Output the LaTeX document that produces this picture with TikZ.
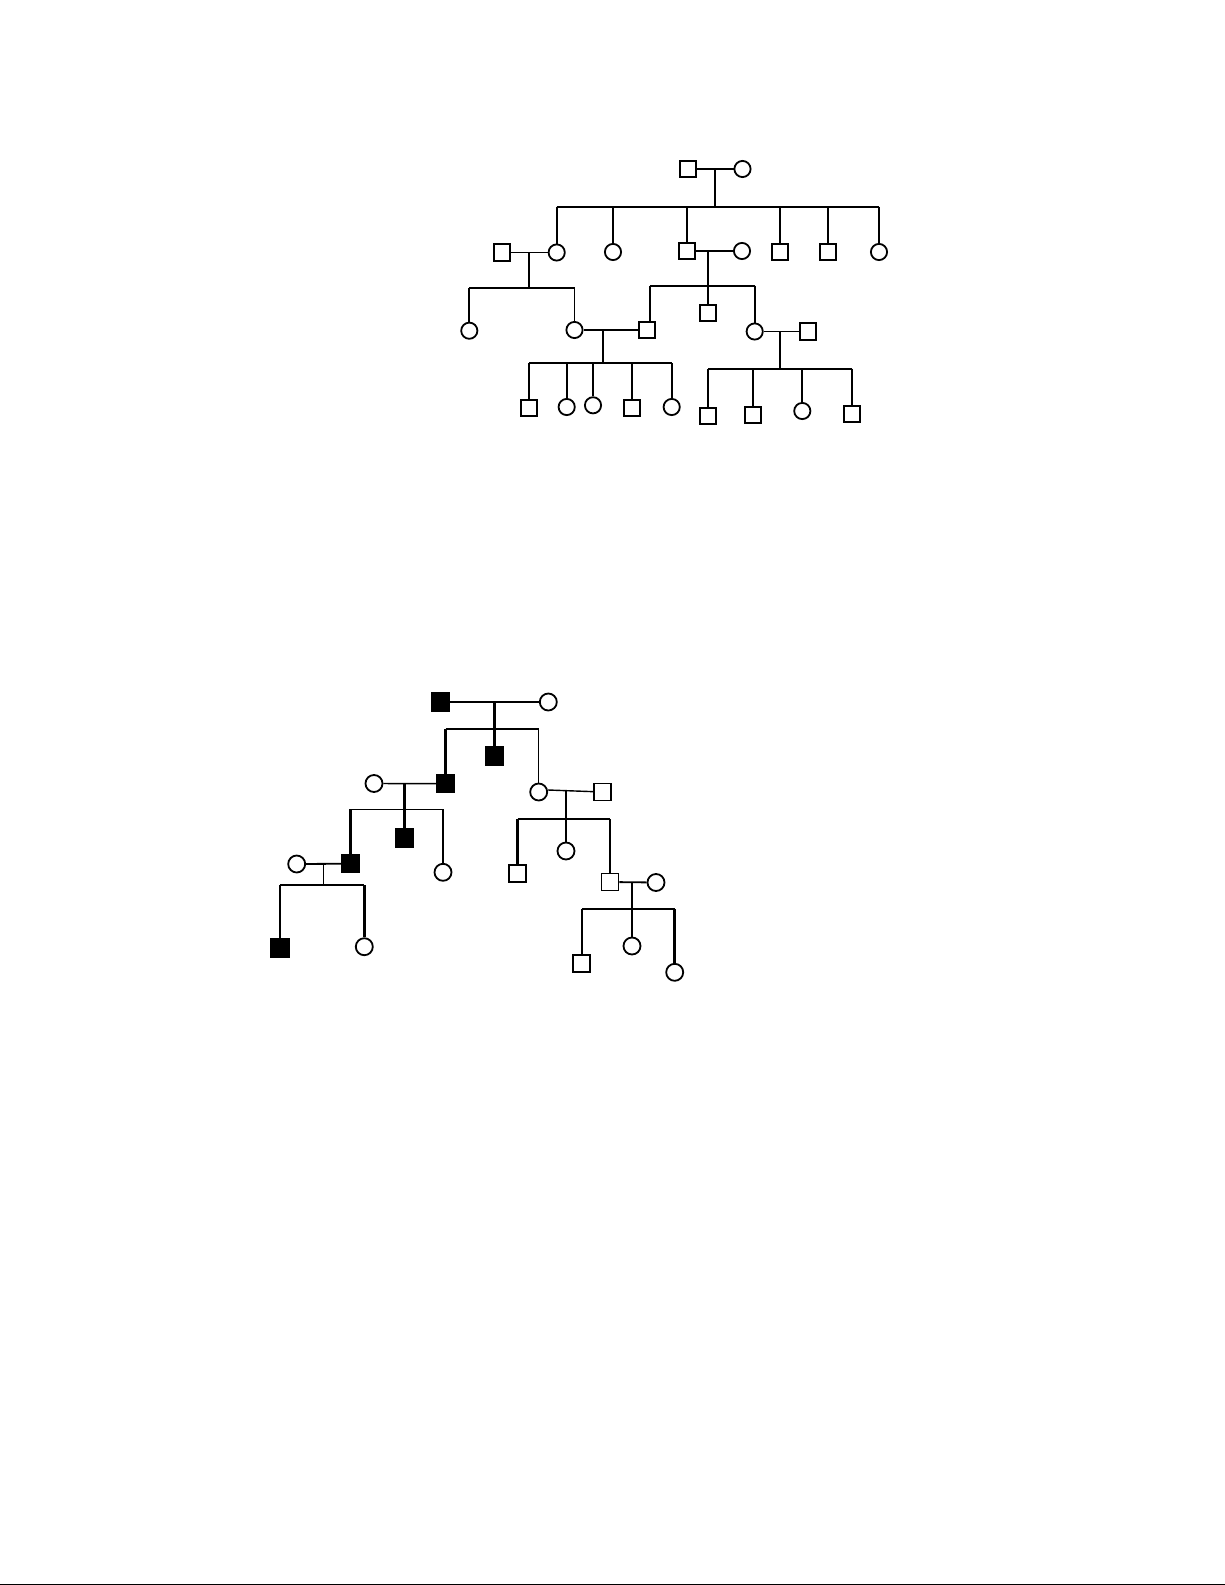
\documentclass[tikz,border=0pt]{standalone}
\usetikzlibrary{positioning}
\tikzset{
    x=1pt, y=-1pt,
    male/.style={
        draw, rectangle,
        minimum size=16.2pt,
        inner sep=0pt,
        line width=1.9pt
    },
    female/.style={
        draw, circle,
        minimum size=16.2pt,
        inner sep=0pt,
        line width=1.8pt
    },
    affected/.style={
        fill=black
    },
    link/.style={
        line width=1.8pt
    },
    heavy/.style={
        line width=2.6pt
    },
    light/.style={
        line width=1.4pt
    }
}

\begin{document}
\begin{tikzpicture}
                \useasboundingbox (0,0) rectangle (1225,1585);

                % upper pedigree
                \node[male] (a1) at (688,169) {};
                \node[female] (a2) at (742.5,169) {};

                \node[male] (b1) at (501.7,252.5) {};
                \node[female] (b2) at (556.7,252.5) {};
                \node[female] (b3) at (613,252) {};
                \node[male] (b4) at (687.3,251) {};
                \node[female] (b5) at (742,251) {};
                \node[male] (b6) at (779.8,252) {};
                \node[male] (b7) at (828.3,252) {};
                \node[female] (b8) at (879,252) {};

                \node[female] (c1) at (469.3,330.7) {};
                \node[female] (c2) at (574.5,330) {};
                \node[male] (c3) at (646.8,330) {};
                \node[male] (c4) at (708,313) {};
                \node[female] (c5) at (754.7,331.5) {};
                \node[male] (c6) at (807.7,331.5) {};

                \node[male] (d1) at (529.2,407.7) {};
                \node[female] (d2) at (566.7,407) {};
                \node[female] (d3) at (593,405.3) {};
                \node[male] (d4) at (631.7,407.7) {};
                \node[female] (d5) at (671.7,407) {};
                \node[male] (d6) at (708,415.7) {};
                \node[male] (d7) at (753.3,415) {};
                \node[female] (d8) at (802.3,411) {};
                \node[male] (d9) at (851.8,413.8) {};

                \coordinate (a12) at (715,169);
                \coordinate (sa) at (715,206.7);
                \coordinate (b12) at (528.7,252.5);
                \coordinate (sb) at (528.7,288.3);
                \coordinate (b45) at (708.3,251);
                \coordinate (sbb) at (708.3,285.7);
                \coordinate (c23) at (603.3,330);
                \coordinate (sc) at (603.3,363);
                \coordinate (c56) at (780.3,331.5);
                \coordinate (scc) at (780.3,368.7);

                \draw[link] (a1) -- (a2);
                \draw[link] (a12) -- (sa);
                \draw[link] (b2 |- sa) -- (b8 |- sa);
                \foreach \kid in {b2,b3,b4,b6,b7,b8}
                    \draw[link] (\kid |- sa) -- (\kid);

                \draw[link] (b1) -- (b2);
                \draw[link] (b12) -- (sb);
                \draw[link] (c1 |- sb) -- (c2 |- sb);
                \foreach \kid in {c1,c2}
                    \draw[link] (\kid |- sb) -- (\kid);

                \draw[link] (b4) -- (b5);
                \draw[link] (b45) -- (sbb);
                \draw[link] ([xshift=3pt]c3.center |- sbb) -- (c5 |- sbb);
                \draw[link] ([xshift=3pt]c3.center |- sbb) -- ([xshift=3pt]c3.north);
                \foreach \kid in {c4,c5}
                    \draw[link] (\kid |- sbb) -- (\kid);

                \draw[link] (c2) -- (c3);
                \draw[link] (c23) -- (sc);
                \draw[link] (d1 |- sc) -- (d5 |- sc);
                \foreach \kid in {d1,d2,d3,d4,d5}
                    \draw[link] (\kid |- sc) -- (\kid);

                \draw[link] (c5) -- (c6);
                \draw[link] (c56) -- (scc);
                \draw[link] (d6 |- scc) -- (d9 |- scc);
                \foreach \kid in {d6,d7,d8,d9}
                    \draw[link] (\kid |- scc) -- (\kid);

                % lower pedigree
                \node[male, affected, minimum size=17.5pt] (e1) at (440.3,702) {};
                \node[female, minimum size=17pt] (e2) at (548.3,702) {};

                \node[female, minimum size=17pt] (f0) at (374,783.5) {};
                \node[male, affected, minimum size=17.5pt] (f1) at (445.7,783.7) {};
                \node[male, affected, minimum size=17.5pt] (f2) at (494.5,756) {};
                \node[female, minimum size=17pt] (f3) at (538.7,792) {};
                \node[male, minimum size=17pt] (f4) at (602.7,792) {};

                \node[female, minimum size=17pt] (g0) at (296.7,864) {};
                \node[male, affected, minimum size=17.5pt] (g1) at (350.5,863.7) {};
                \node[male, affected, minimum size=17.5pt] (g2) at (404.5,838) {};
                \node[female, minimum size=17pt] (g3) at (443,872.3) {};
                \node[male, minimum size=17pt] (h1) at (517.7,873.7) {};
                \node[female, minimum size=17pt] (h2) at (566,851) {};
                \node[male, minimum size=17pt] (h3) at (610,882) {};
                \node[female, minimum size=17pt] (h4) at (656,882.5) {};

                \node[male, affected, minimum size=18.5pt] (j1) at (280,948) {};
                \node[female, minimum size=17pt] (j2) at (364.3,946.7) {};
                \node[male, minimum size=17pt] (i1) at (581.8,963.8) {};
                \node[female, minimum size=17pt] (i2) at (632,946) {};
                \node[female, minimum size=17pt] (i3) at (674.7,972.3) {};

                \coordinate (e12) at (494.5,702);
                \coordinate (se) at (494.5,729);
                \coordinate (f01) at (404.5,783.5);
                \coordinate (sf) at (404.5,809.3);
                \coordinate (f34) at (566,790);
                \coordinate (sff) at (566,819);
                \coordinate (g01) at (323.3,864);
                \coordinate (sg) at (323.3,885.3);
                \coordinate (h34) at (632,882.5);
                \coordinate (sh) at (632,909);

                \draw[light] (e1) -- (e2);
                \draw[heavy] (e12) -- (f2);
                \draw[heavy] (f1 |- se) -- (f3 |- se);
                \draw[heavy] (f1 |- se) -- (f1);
                \draw[light] (f3 |- se) -- (f3);

                \draw[light] (f0) -- (f1);
                \draw[heavy] (f01) -- (g2);
                \draw[light] (g1 |- sf) -- (g3 |- sf);
                \draw[heavy] (g1 |- sf) -- (g1);
                \draw[link] (g3 |- sf) -- (g3);

                \draw[light] (f3.east |- f34) -- (f4);
                \draw[heavy] (f34) -- (h2);
                \draw[light] (h1 |- sff) -- (h3 |- sff);
                \draw[heavy] (h1 |- sff) -- (h1);
                \draw[light] (h3 |- sff) -- (h3);

                \draw[link] (h3) -- (h4);
                \draw[light] (h34) -- (i2);
                \draw[link] (i1 |- sh) -- (i3 |- sh);
                \draw[light] (i1 |- sh) -- (i1);
                \draw[heavy] (i3 |- sh) -- (i3);

                \draw[link] (g0) -- (g1);
                \draw[light] (g01) -- (sg);
                \draw[link] (j1 |- sg) -- (j2 |- sg);
                \foreach \kid in {j1,j2}
                    \draw[heavy] (\kid |- sg) -- (\kid);

                \draw[line width=1pt] (0,1584) -- (1225,1584);
            \end{tikzpicture}
\end{document}
